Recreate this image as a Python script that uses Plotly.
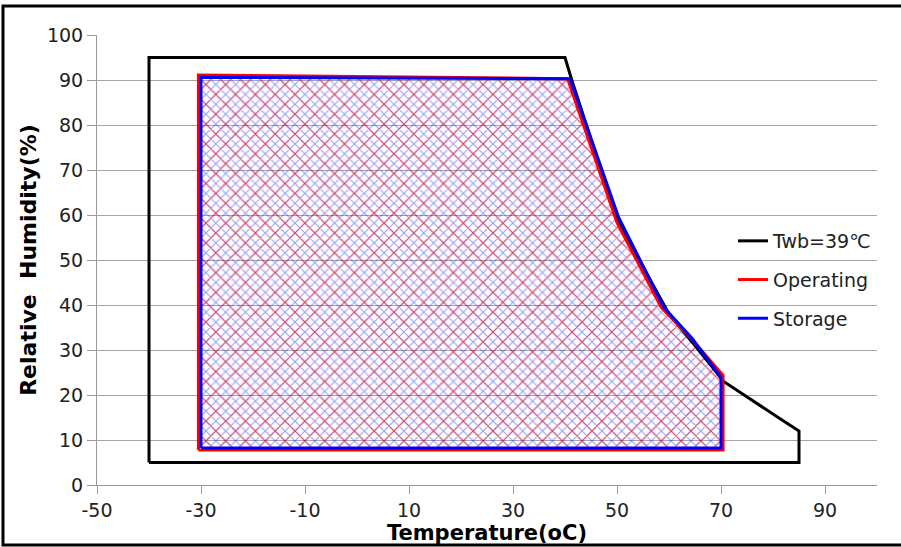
import plotly.graph_objects as go

# Data
twb_x = [-40, -40, 40, 41.3, 50, 60, 65, 70.5, 81, 85, 85, -40]
twb_y = [5, 95, 95, 90, 59, 38, 31, 23, 15, 12, 5, 5]

op_x = [-30.5, -30.5, 40.5, 50, 58.5, 64.3, 70.4, 70.4, -30.5]
op_y = [7.8, 91.1, 90.3, 58.3, 39.5, 32.5, 24.4, 7.8, 7.8]

st_x = [-30, -30, 41, 50.3, 59, 64.5, 70, 70, -30]
st_y = [8.2, 90.6, 90.3, 59.5, 39.5, 32.5, 24, 8.2, 8.2]

x_ticks = [-50, -30, -10, 10, 30, 50, 70, 90]
y_ticks = [0, 10, 20, 30, 40, 50, 60, 70, 80, 90, 100]

fig = go.Figure()
# hatched areas (no legend)
fig.add_trace(go.Scatter(
    x=st_x, y=st_y, mode="lines", fill="toself", showlegend=False, hoverinfo="skip",
    fillcolor="rgba(0,0,0,0)",
    fillpattern=dict(shape="x", fgcolor="blue", bgcolor="rgba(0,0,0,0)",
                     size=7, solidity=0.3, fgopacity=0.38),
    line=dict(width=0, color="rgba(0,0,0,0)")))
fig.add_trace(go.Scatter(
    x=op_x, y=op_y, mode="lines", fill="toself", showlegend=False, hoverinfo="skip",
    fillcolor="rgba(0,0,0,0)",
    fillpattern=dict(shape="x", fgcolor="red", bgcolor="rgba(0,0,0,0)",
                     size=14, solidity=0.15, fgopacity=0.55),
    line=dict(width=0, color="rgba(0,0,0,0)")))
# outlines
fig.add_trace(go.Scatter(
    x=twb_x, y=twb_y, mode="lines", name="Twb=39\u2103",
    line=dict(color="black", width=3), legendgroup="a"))
fig.add_trace(go.Scatter(
    x=op_x, y=op_y, mode="lines", name="Operating",
    line=dict(color="red", width=3), legendgroup="b"))
fig.add_trace(go.Scatter(
    x=st_x, y=st_y, mode="lines", name="Storage",
    line=dict(color="blue", width=3), legendgroup="c"))

W, H = 901, 547
ml, mr, mt, mb = 97, 24, 35, 62
pw = W - ml - mr
ph = H - mt - mb

fig.update_layout(
    width=W, height=H,
    margin=dict(l=ml, r=mr, t=mt, b=mb),
    paper_bgcolor="white", plot_bgcolor="white",
    font=dict(family="DejaVu Sans", color="black", size=19),
    legend=dict(x=(733 - ml) / pw, y=(mt + ph - 222) / ph, xanchor="left", yanchor="top",
                bgcolor="rgba(0,0,0,0)", tracegroupgap=11,
                font=dict(family="DejaVu Sans", size=19, color="#222")),
    xaxis=dict(range=[-50, 100], tickvals=x_ticks, ticktext=[str(v) for v in x_ticks],
               showgrid=False, zeroline=False, showline=True, linecolor="#999",
               linewidth=1, ticks="outside", tickcolor="#999", ticklen=8,
               tickfont=dict(family="DejaVu Sans", size=19, color="#222"),
               title=dict(text="<b>Temperature(oC)</b>", standoff=0,
                          font=dict(family="DejaVu Sans", size=21))),
    yaxis=dict(range=[0, 100], tickvals=y_ticks, ticktext=[str(v) for v in y_ticks],
               showgrid=True, gridcolor="#a6a6a6", gridwidth=1, zeroline=False,
               showline=True, linecolor="#999", linewidth=1, ticks="outside",
               tickcolor="#999", ticklen=9,
               tickfont=dict(family="DejaVu Sans", size=19, color="#222"),
               title=dict(text="<b>Relative  Humidity(%)</b>", standoff=4,
                          font=dict(family="DejaVu Sans", size=22))),
    shapes=[dict(type="rect", xref="paper", yref="paper",
                 x0=(3 - ml) / pw, x1=(905 - ml) / pw,
                 y0=(mt + ph - 545) / ph, y1=(mt + ph - 6) / ph,
                 line=dict(color="black", width=3), fillcolor="rgba(0,0,0,0)",
                 layer="above")],
)

fig.write_html("out.html", config={"displayModeBar": False},
               post_script="document.body.style.margin='0';")
